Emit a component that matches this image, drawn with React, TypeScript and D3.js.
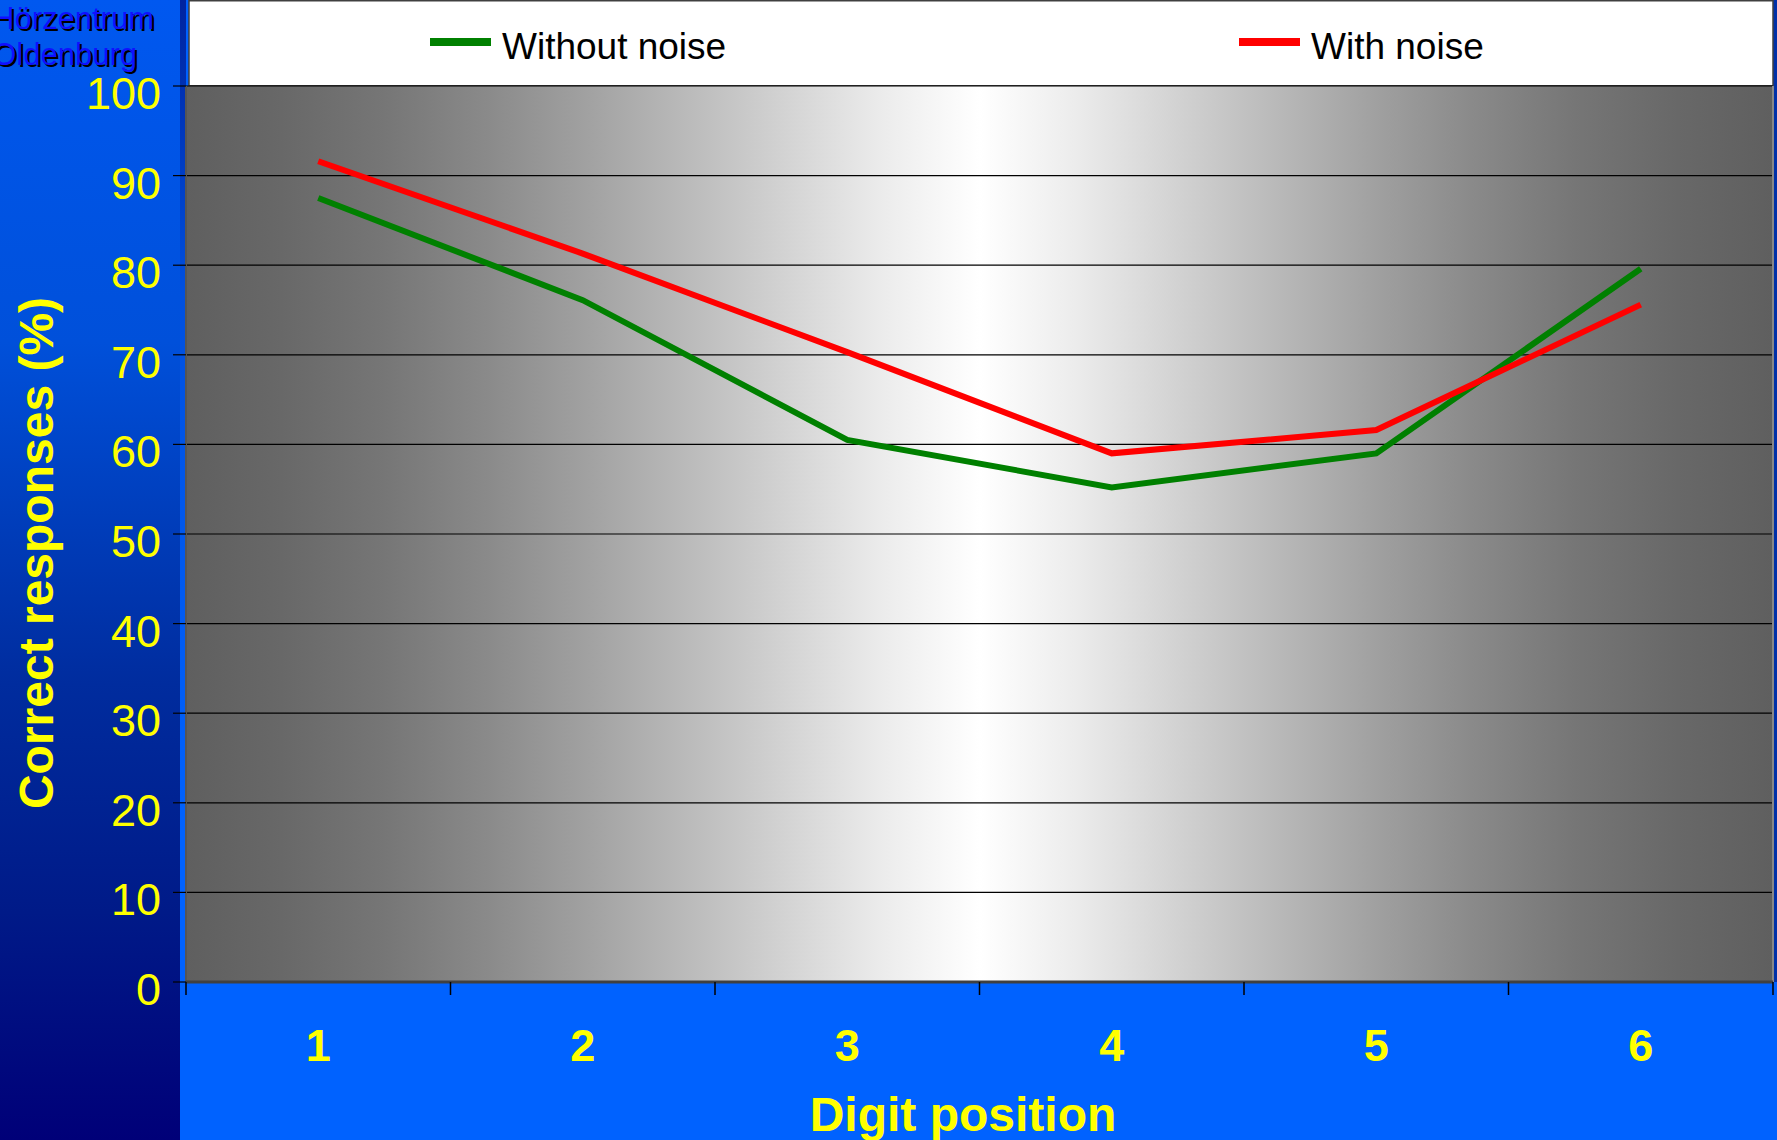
import React from 'react'
import * as d3 from 'd3'

// Data
const digitPositions = ['1', '2', '3', '4', '5', '6']
const withoutNoise = [87.5, 76.1, 60.5, 55.2, 59.0, 79.6]
const withNoise = [91.6, 81.3, 70.3, 59.0, 61.6, 75.6]
const yTicks = [0, 10, 20, 30, 40, 50, 60, 70, 80, 90, 100]

const seriesList = [
  { name: 'Without noise', values: withoutNoise, color: '#008000' },
  { name: 'With noise', values: withNoise, color: '#FF0000' },
]

const W = 1777
const H = 1140
const FONT = '"Liberation Sans", Arial, sans-serif'

// grey ramp of the plot background, edge -> centre
const bgStops = [
  [0, '#5f5f5f'],
  [0.06, '#686868'],
  [0.125, '#767676'],
  [0.19, '#8a8a8a'],
  [0.255, '#a2a2a2'],
  [0.32, '#bcbcbc'],
  [0.38, '#d4d4d4'],
  [0.44, '#ececec'],
  [0.5, '#ffffff'],
] as const

const App: React.FC = () => {
  // plot area
  const left = 186
  const right = 1773
  const top = 86
  const bottom = 982

  const x = d3.scaleBand<string>().domain(digitPositions).range([left, right])
  const y = d3.scaleLinear().domain([0, 100]).range([bottom, top])

  const line = d3
    .line<number>()
    .x((_d, i) => (x(digitPositions[i]) || 0) + x.bandwidth() / 2)
    .y((d) => y(d))

  const tickEdges = digitPositions.map((d) => x(d) || 0).concat([right])

  const allStops = [
    ...bgStops,
    ...bgStops
      .slice(0, -1)
      .reverse()
      .map(([o, c]) => [1 - o, c] as const),
  ]

  return (
    <svg
      width={W}
      height={H}
      style={{ position: 'absolute', left: 0, top: 0, display: 'block' }}
      fontFamily={FONT}
    >
      <defs>
        <linearGradient id="leftCol" x1="0" y1="0" x2="0" y2="1">
          <stop offset="0" stopColor="#0058F0" />
          <stop offset="0.3" stopColor="#0050DA" />
          <stop offset="0.6" stopColor="#002C9E" />
          <stop offset="0.8" stopColor="#001A88" />
          <stop offset="1" stopColor="#000078" />
        </linearGradient>
        <linearGradient id="strip" x1="0" y1="0" x2="0" y2="1">
          <stop offset="0" stopColor="#0024A0" />
          <stop offset="0.3" stopColor="#0050E0" />
          <stop offset="0.85" stopColor="#0062FF" />
          <stop offset="1" stopColor="#0062FF" />
        </linearGradient>
        <linearGradient id="plotBg" x1="0" y1="0" x2="1" y2="0">
          {allStops.map(([o, c], i) => (
            <stop key={i} offset={o} stopColor={c} />
          ))}
        </linearGradient>
      </defs>

      {/* backgrounds */}
      <rect x={0} y={0} width={W} height={H} fill="#0062FF" />
      <rect x={0} y={0} width={180} height={H} fill="url(#leftCol)" />
      <rect x={180} y={0} width={6} height={bottom} fill="url(#strip)" />
      <rect x={right} y={0} width={W - right} height={bottom} fill="#0030A8" />

      {/* logo text */}
      <g fontSize={31} textAnchor="end">
        <text x={156} y={31} fill="#000">Hörzentrum</text>
        <text x={154} y={29} fill="#1010FF">Hörzentrum</text>
        <text x={139} y={67} fill="#000">Oldenburg</text>
        <text x={137} y={65} fill="#1010FF">Oldenburg</text>
      </g>

      {/* legend box */}
      <rect x={189} y={0.75} width={right - 189} height={top - 1} fill="#fff" stroke="#404040" strokeWidth={1.5} />
      {seriesList.map((s, i) => {
        const lx = i === 0 ? 430 : 1239
        return (
          <g key={s.name}>
            <line x1={lx} x2={lx + 61} y1={42} y2={42} stroke={s.color} strokeWidth={8} />
            <text x={lx + 72} y={59} fontSize={37} fill="#000">
              {s.name}
            </text>
          </g>
        )
      })}

      {/* plot background */}
      <rect x={left} y={top} width={right - left} height={bottom - top} fill="url(#plotBg)" />

      {/* gridlines */}
      {yTicks.map((t) => (
        <line key={t} x1={left} x2={right} y1={y(t)} y2={y(t)} stroke="#000" strokeWidth={1.2} />
      ))}

      {/* plot borders */}
      <line x1={left} x2={left} y1={top} y2={bottom} stroke="#555" strokeWidth={2} />
      <line x1={right} x2={right} y1={top} y2={bottom} stroke="#888" strokeWidth={2} />
      <line x1={left} x2={right} y1={bottom} y2={bottom} stroke="#404040" strokeWidth={3} />

      {/* y axis */}
      {yTicks.map((t) => (
        <g key={t}>
          <line x1={173} x2={left} y1={y(t)} y2={y(t)} stroke="#000" strokeWidth={1.2} />
          <text x={161} y={y(t) + 23} fontSize={45} fill="#FFFF00" textAnchor="end">
            {t}
          </text>
        </g>
      ))}
      <text
        transform={`translate(53, 553) rotate(-90)`}
        fontSize={48}
        fontWeight="bold"
        fill="#FFFF00"
        textAnchor="middle"
      >
        Correct responses (%)
      </text>

      {/* x axis */}
      {tickEdges.map((e, i) => (
        <line key={i} x1={e} x2={e} y1={bottom} y2={995} stroke="#000" strokeWidth={1.5} />
      ))}
      {digitPositions.map((d) => (
        <text
          key={d}
          x={(x(d) || 0) + x.bandwidth() / 2}
          y={1061}
          fontSize={45}
          fontWeight="bold"
          fill="#FFFF00"
          textAnchor="middle"
        >
          {d}
        </text>
      ))}
      <text x={963} y={1131} fontSize={48} fontWeight="bold" fill="#FFFF00" textAnchor="middle">
        Digit position
      </text>

      {/* series lines */}
      {seriesList.map((s) => (
        <path key={s.name} d={line(s.values) || ''} fill="none" stroke={s.color} strokeWidth={6} />
      ))}
    </svg>
  )
}

export default App
